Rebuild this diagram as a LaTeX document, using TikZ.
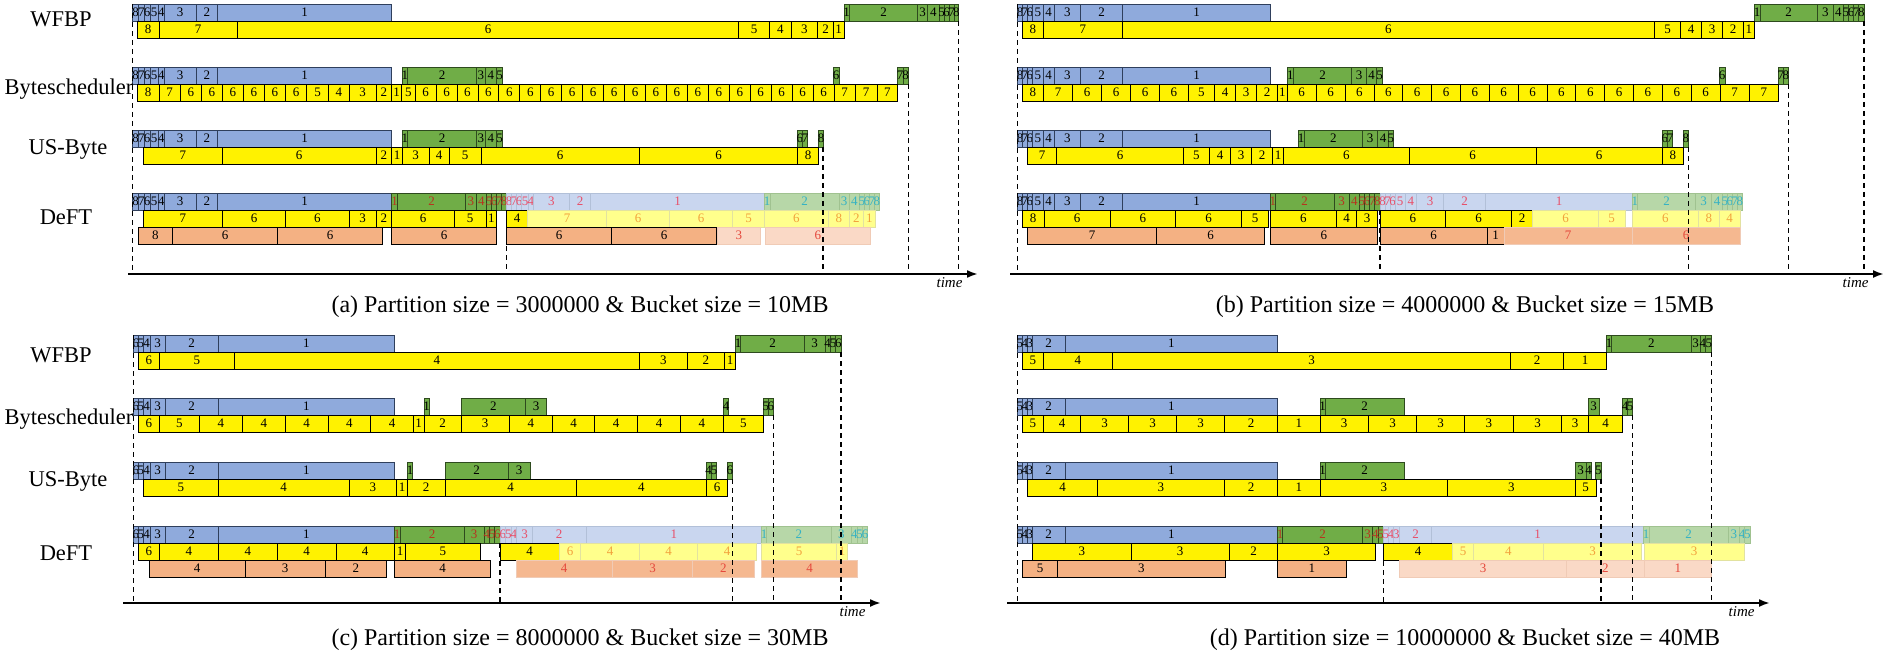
\documentclass[tikz,border=0pt]{standalone}
\usepackage{fontspec}
\setmainfont{Liberation Serif}
\usetikzlibrary{arrows.meta,positioning}

\definecolor{bluC}{HTML}{8FAADC}
\definecolor{bluB}{HTML}{2F3F5C}
\definecolor{verdeC}{HTML}{70AD47}
\definecolor{verdeB}{HTML}{2E4A1E}
\definecolor{arancioC}{HTML}{F4B183}
\definecolor{rossoS}{HTML}{B8341F}
\definecolor{bluTC}{HTML}{C9D6EF}
\definecolor{bluTB}{HTML}{B2C0D8}
\definecolor{bluTT}{HTML}{E8506A}
\definecolor{verdeTC}{HTML}{B7D7A8}
\definecolor{verdeTB}{HTML}{A0C290}
\definecolor{verdeTT}{HTML}{35B2C4}
\definecolor{gialloTC}{HTML}{FFFF8C}
\definecolor{gialloTB}{HTML}{E2E2A0}
\definecolor{gialloTT}{HTML}{F2A23C}
\definecolor{aranTC}{HTML}{FAD9C6}
\definecolor{aranTB}{HTML}{F0CBB6}
\definecolor{aranMC}{HTML}{F5B890}
\definecolor{aranTT}{HTML}{E5483C}

% una fila di blocchi: id, stile, y, x iniziale, lista fine/etichetta
\newcommand{\fila}[5]{%
  \foreach \b/\t [count=\i, remember=\b as \a (initially #4)] in {#5}
    \draw[#2] (\a,#3) rectangle (\b,#3+17) node[midway] (#1-\i) {\t};
}

\begin{document}
\begin{tikzpicture}
  [x=1pt, y=-1pt,
  cella/.style={line width=0.7pt, font=\fontsize{13}{13}\selectfont},
  blu/.style={cella, fill=bluC, draw=bluB},
  verde/.style={cella, fill=verdeC, draw=verdeB},
  verdeR/.style={verde, text=rossoS},
  giallo/.style={cella, fill=yellow, draw=black},
  arancio/.style={cella, fill=arancioC, draw=black},
  bluT/.style={cella, fill=bluTC, draw=bluTB, text=bluTT},
  verdeT/.style={cella, fill=verdeTC, draw=verdeTB, text=verdeTT},
  gialloT/.style={cella, fill=gialloTC, draw=gialloTB, text=gialloTT},
  aranT/.style={cella, fill=aranTC, draw=aranTB, text=aranTT},
  aranM/.style={cella, fill=aranMC, draw=aranTB, text=aranTT},
  tratto/.style={line width=1.4pt, dash pattern=on 5pt off 4pt},
  asse/.style={line width=2pt, -{Latex[length=11pt,width=8pt]}},
  tempo/.style={font=\fontsize{15}{15}\selectfont\itshape},
  etichetta/.style={font=\fontsize{22.5}{24}\selectfont},
  didascalia/.style={font=\fontsize{24}{26}\selectfont}
  ]
  \useasboundingbox (0,0) rectangle (1890,663);

  % (a)
  \fila{aWb}{blu}{4}{132.7}{138.5/8,144.3/7,150/6,158.3/5,164.3/4,196/3,217.7/2,391.7/1}
  \fila{aWv}{verde}{4}{844}{849.3/1,917.7/2,927.7/3,939/4,944/5,949/6,954/7,958.7/8}
  \fila{aWg}{giallo}{21}{137.3}{159/8,237.3/7,738.7/6,769.7/5,791/4,817.7/3,833.3/2,844/1}

  \fila{aBb}{blu}{67}{132.7}{138.5/8,144.3/7,150/6,158.3/5,164.3/4,196/3,217.7/2,391.7/1}
  \fila{aBv}{verde}{67}{402.3}{407.3/1,476.7/2,485/3,496.7/4,502.3/5}
  \fila{aBv6}{verde}{67}{833.3}{839/6}
  \fila{aBv7}{verde}{67}{897.3}{903/7,908.3/8}
  \fila{aBg}{giallo}{84}{137.3}{159/8,180.3/7,201.3/6,222.3/6,243.3/6,264.3/6,285.3/6,306.7/6,328.3/5,349.3/4,376/3,391.7/2,401.7/1,415/5,436/6,457/6,477.9/6,498.8/6,519.8/6,540.7/6,561.7/6,582.6/6,603.6/6,624.5/6,645.5/6,666.4/6,687.4/6,708.3/6,729.3/6,750.2/6,771.2/6,792.1/6,813.1/6,834/6,855.3/7,877/7,897.7/7}

  \fila{aUb}{blu}{130}{132.7}{138.5/8,144.3/7,150/6,158.3/5,164.3/4,196/3,217.7/2,391.7/1}
  \fila{aUv}{verde}{130}{402.3}{407.3/1,476.7/2,485/3,496.7/4,502.3/5}
  \fila{aUv6}{verde}{130}{797.3}{802.5/6,807.7/7}
  \fila{aUv8}{verde}{130}{818.3}{823.7/8}
  \fila{aUg}{giallo}{147}{143.3}{222.3/7,376/6,391.7/2,402.3/1,429/3,449.3/4,481/5,639.3/6,797.7/6,818.3/8}

  \fila{aDb}{blu}{193}{132.7}{138.5/8,144.3/7,150/6,158.3/5,164.3/4,196/3,217.7/2,391.7/1}
  \fila{aDv}{verdeR}{193}{391.7}{397.3/1,465.7/2,476/3,486.7/4,491.7/5,496.7/6,501.7/7,506.7/8}
  \fila{aDbt}{bluT}{193}{506.7}{511.7/8,516.7/7,521.7/6,528.3/5,533.3/4,569.3/3,590.7/2,764.3/1}
  \fila{aDvt}{verdeT}{193}{764.3}{770/1,839/2,849.3/3,859.3/4,864.3/5,869.3/6,874.3/7,879.3/8}
  \fila{aDg}{giallo}{210}{143.3}{222.3/7,285.7/6,349/6,376/3,391.7/2,454.3/6,486/5,496.7/1}
  \fila{aDg4}{giallo}{210}{506.7}{527.3/4}
  \fila{aDgt}{gialloT}{210}{527.3}{606.7/7,669.3/6,732.7/6,764.3/5,828.3/6,849.3/8,863.3/2,875.3/1}
  \fila{aDa}{arancio}{227}{138.3}{172.3/8,277.7/6,382.3/6}
  \fila{aDa5}{arancio}{227}{391.7}{496.7/6}
  \fila{aDa7}{arancio}{227}{506.7}{611.7/6,716.7/6}
  \fila{aDat}{aranT}{227}{717.7}{760/3}
  \fila{aDat6}{aranT}{227}{765.7}{870/6}

  % (b)
  \fila{bWb}{blu}{4}{1017.7}{1022.3/8,1027.3/7,1032.3/6,1043.3/5,1054/4,1080.7/3,1122.7/2,1270.7/1}
  \fila{bWv}{verde}{4}{1754.3}{1760/1,1817.3/2,1833.3/3,1843.3/4,1848.5/5,1853.7/6,1858.8/7,1864/8}
  \fila{bWg}{giallo}{21}{1022.3}{1043.3/8,1122.3/7,1654.3/6,1680.7/5,1701.7/4,1722.7/3,1743.3/2,1754.3/1}

  \fila{bBb}{blu}{67}{1017.7}{1022.3/8,1027.3/7,1032.3/6,1043.3/5,1054/4,1080.7/3,1122.7/2,1270.7/1}
  \fila{bBv}{verde}{67}{1287.3}{1293.3/1,1351.7/2,1366.7/3,1376.7/4,1382.7/5}
  \fila{bBv6}{verde}{67}{1719.3}{1725/6}
  \fila{bBv7}{verde}{67}{1778.3}{1783.3/7,1788.3/8}
  \fila{bBg}{giallo}{84}{1022.3}{1043.3/8,1072.7/7,1101.7/6,1130.7/6,1159.3/6,1188.3/6,1214.3/5,1235.7/4,1256.7/3,1277.3/2,1287.3/1,1316.1/6,1345/6,1373.9/6,1402.7/6,1431.6/6,1460.4/6,1489.3/6,1518.1/6,1547/6,1575.8/6,1604.7/6,1633.5/6,1662.4/6,1691.2/6,1720.1/6,1749.3/7,1778.3/7}

  \fila{bUb}{blu}{130}{1017.7}{1022.3/8,1027.3/7,1032.3/6,1043.3/5,1054/4,1080.7/3,1122.7/2,1270.7/1}
  \fila{bUv}{verde}{130}{1298.3}{1304/1,1362.7/2,1377.7/3,1388.3/4,1393.3/5}
  \fila{bUv6}{verde}{130}{1662.3}{1667.5/6,1672.7/7}
  \fila{bUv8}{verde}{130}{1683.3}{1688.3/8}
  \fila{bUg}{giallo}{147}{1027.7}{1056.7/7,1183.3/6,1209.3/5,1230.7/4,1251.7/3,1272.7/2,1283.3/1,1409.3/6,1536/6,1662.3/6,1683.3/8}

  \fila{bDb}{blu}{193}{1017.7}{1022.3/8,1027.3/7,1032.3/6,1043.3/5,1054/4,1080.7/3,1122.7/2,1270.7/1}
  \fila{bDv}{verdeR}{193}{1270.7}{1275/1,1334/2,1349.3/3,1359.3/4,1364.5/5,1369.7/6,1374.8/7,1380/8}
  \fila{bDbt}{bluT}{193}{1380}{1385/8,1390/7,1395/6,1405/5,1416.7/4,1443.3/3,1485.7/2,1632.3/1}
  \fila{bDvt}{verdeT}{193}{1632.3}{1637.3/1,1695.7/2,1711.7/3,1722.3/4,1727.3/5,1732.3/6,1737.3/7,1742.3/8}
  \fila{bDg}{giallo}{210}{1022.3}{1044/8,1110/6,1175.7/6,1241.7/6,1268.3/5}
  \fila{bDg2}{giallo}{210}{1270}{1336.7/6,1356.7/4,1377.7/3}
  \fila{bDg3}{giallo}{210}{1380}{1445.7/6,1511.7/6,1532.7/2}
  \fila{bDgt}{gialloT}{210}{1532.7}{1598.3/6,1625/5}
  \fila{bDgt2}{gialloT}{210}{1632.3}{1698.3/6,1719.3/8,1740/4}
  \fila{bDa}{arancio}{227}{1027.7}{1156.7/7,1264.3/6}
  \fila{bDa2}{arancio}{227}{1270}{1377.7/6}
  \fila{bDa3}{arancio}{227}{1380}{1487.3/6,1504/1}
  \fila{bDam}{aranM}{227}{1504}{1632.3/7,1740/6}

  % (c)
  \fila{cWb}{blu}{335}{133.3}{138.3/6,143.3/5,150/4,165/3,218.3/2,394.3/1}
  \fila{cWv}{verde}{335}{735.7}{740.7/1,804.3/2,825/3,830.3/4,835.7/5,841/6}
  \fila{cWg}{giallo}{352}{138.3}{159.3/6,234.3/5,639.3/4,687.3/3,724.3/2,735.7/1}

  \fila{cBb}{blu}{398}{133.3}{138.3/6,143.3/5,150/4,165/3,218.3/2,394.3/1}
  \fila{cBv}{verde}{398}{424}{429.3/1}
  \fila{cBv2}{verde}{398}{461}{525.7/2,546.7/3}
  \fila{cBv4}{verde}{398}{723.3}{728.7/4}
  \fila{cBv5}{verde}{398}{763.3}{768.3/5,773.3/6}
  \fila{cBg}{giallo}{415}{138.3}{159.3/6,199.3/5,242.3/4,285.3/4,328/4,370.7/4,413.3/4,424/1,461/2,509.3/3,552.3/4,594.7/4,637.7/4,680.3/4,723.3/4,763.3/5}

  \fila{cUb}{blu}{462}{133.3}{138.3/6,143.3/5,150/4,165/3,218.3/2,394.3/1}
  \fila{cUv}{verde}{462}{407.3}{412.7/1}
  \fila{cUv2}{verde}{462}{445}{508.3/2,530/3}
  \fila{cUv4}{verde}{462}{706}{711.3/4,716.7/5}
  \fila{cUv6}{verde}{462}{727.3}{732.3/6}
  \fila{cUg}{giallo}{479}{143.3}{218.3/5,349/4,396.7/3,407.3/1,445/2,576/4,706.7/4,727.7/6}

  \fila{cDb}{blu}{526}{133.3}{138.3/6,143.3/5,150/4,165/3,218.3/2,394.3/1}
  \fila{cDv}{verdeR}{526}{394.3}{400/1,464/2,484.3/3,489.5/4,494.8/5,500/6}
  \fila{cDbt}{bluT}{526}{500}{505.5/6,511/5,516.7/4,532.3/3,586/2,761.7/1}
  \fila{cDvt}{verdeT}{526}{761.7}{766.7/1,831/2,851.7/3,857/4,862.3/5,867.7/6}
  \fila{cDg}{giallo}{543}{138.3}{159.3/6,218.3/4,277.3/4,336/4,394.3/4,405.7/1,480/5}
  \fila{cDg2}{giallo}{543}{500}{559.3/4}
  \fila{cDgt}{gialloT}{543}{559.3}{580.7/6,639.3/4,697.7/4,756.7/4}
  \fila{cDgt2}{gialloT}{543}{761.7}{836.7/5,847.7/1}
  \fila{cDa}{arancio}{560}{149.3}{245/4,325/3,386.7/2}
  \fila{cDa2}{arancio}{560}{394.3}{490.7/4}
  \fila{cDam}{aranM}{560}{516}{612.3/4,692.7/3,754/2}
  \fila{cDam2}{aranM}{560}{761.7}{857.7/4}

  % (d)
  \fila{dWb}{blu}{335}{1017.3}{1022.3/5,1027.3/4,1032.3/3,1065/2,1277.7/1}
  \fila{dWv}{verde}{335}{1606.7}{1611.7/1,1691/2,1700/3,1705.8/4,1711.7/5}
  \fila{dWg}{giallo}{352}{1022.3}{1043.3/5,1112.3/4,1510.7/3,1563.3/2,1606.7/1}

  \fila{dBb}{blu}{398}{1017.3}{1022.3/5,1027.3/4,1032.3/3,1065/2,1277.7/1}
  \fila{dBv}{verde}{398}{1320}{1325/1,1404.3/2}
  \fila{dBv3}{verde}{398}{1588.3}{1599/3}
  \fila{dBv4}{verde}{398}{1622.7}{1627.7/4,1632.7/5}
  \fila{dBg}{giallo}{415}{1022.3}{1043.3/5,1080.7/4,1128.3/3,1176.7/3,1224.3/3,1277.7/2,1320/1,1368.3/3,1416.7/3,1464.3/3,1513.3/3,1561.7/3,1588.3/3,1622.7/4}

  \fila{dUb}{blu}{462}{1017.3}{1022.3/5,1027.3/4,1032.3/3,1065/2,1277.7/1}
  \fila{dUv}{verde}{462}{1320}{1325/1,1404.3/2}
  \fila{dUv3}{verde}{462}{1575}{1586/3,1591/4}
  \fila{dUv5}{verde}{462}{1595.7}{1601/5}
  \fila{dUg}{giallo}{479}{1027.7}{1097.3/4,1224.3/3,1277.7/2,1320/1,1447.7/3,1575/3,1596/5}

  \fila{dDb}{blu}{526}{1017.3}{1022.3/5,1027.3/4,1032.3/3,1065/2,1277.7/1}
  \fila{dDv}{verdeR}{526}{1277.7}{1282.7/1,1362.7/2,1372.7/3,1378/4,1383.3/5}
  \fila{dDbt}{bluT}{526}{1383.3}{1388.3/5,1393.3/4,1399.3/3,1431.7/2,1643.3/1}
  \fila{dDvt}{verdeT}{526}{1643.3}{1649/1,1728.3/2,1739.3/3,1744.7/4,1750/5}
  \fila{dDg}{giallo}{543}{1032.7}{1131/3,1229.3/3,1277.7/2,1375.7/3}
  \fila{dDg2}{giallo}{543}{1383.3}{1452.7/4}
  \fila{dDgt}{gialloT}{543}{1452.7}{1473.3/5,1543.3/4,1641.7/3}
  \fila{dDgt2}{gialloT}{543}{1644}{1744.3/3}
  \fila{dDa}{arancio}{560}{1022.7}{1057.7/5,1225/3}
  \fila{dDa2}{arancio}{560}{1277.7}{1346/1}
  \fila{dDat}{aranT}{560}{1399.3}{1566.7/3,1644/2,1711.7/1}

  % linee tratteggiate
  \foreach \x/\y in {132.7/4,506.7/210,823/147,908.3/84,958.7/21,
                     1017.7/4,1380/210,1688.3/147,1788.3/84,1864/21}
    \draw[tratto] (\x,\y) -- (\x,274);
  \foreach \x/\y in {133.3/335,500/543,732.3/479,773.3/415,841/352,
                     1017.3/335,1383.3/543,1601/479,1632.7/415,1711.7/352}
    \draw[tratto] (\x,\y) -- (\x,603);

  % assi
  \coordinate (ia) at (128,274);  \coordinate (fa) at (978,274);
  \coordinate (ib) at (1010,274); \coordinate (fb) at (1884,274);
  \coordinate (ic) at (123,603);  \coordinate (fc) at (881,603);
  \coordinate (id) at (1007,603); \coordinate (fd) at (1770,603);
  \draw[asse] (ia) -- (fa);
  \draw[asse] (ib) -- (fb);
  \draw[asse] (ic) -- (fc);
  \draw[asse] (id) -- (fd);
  \node[tempo, below left=0pt and 12pt of fa] (tempoa) {time};
  \node[tempo, below left=0pt and 12pt of fb] (tempob) {time};
  \node[tempo, below left=0pt and 12pt of fc] (tempoc) {time};
  \node[tempo, below left=0pt and 12pt of fd] (tempod) {time};

  % nomi delle righe
  \node[etichetta] (wfbpa) at (61,19) {WFBP};
  \node[etichetta] (bytea) at (69,89) {Bytescheduler};
  \node[etichetta] (usa) at (68,149) {US-Byte};
  \node[etichetta] (defta) at (66,217) {DeFT};
  \node[etichetta] (wfbpc) at (61,355) {WFBP};
  \node[etichetta] (bytec) at (69,419) {Bytescheduler};
  \node[etichetta] (usc) at (68,481) {US-Byte};
  \node[etichetta] (deftc) at (66,553) {DeFT};

  % didascalie
  \node[didascalia] (capa) at (580,307) {(a) Partition size = 3000000 \& Bucket size = 10MB};
  \node[didascalia] (capb) at (1465,307) {(b) Partition size = 4000000 \& Bucket size = 15MB};
  \node[didascalia] (capc) at (580,640) {(c) Partition size = 8000000 \& Bucket size = 30MB};
  \node[didascalia] (capd) at (1465,640) {(d) Partition size = 10000000 \& Bucket size = 40MB};
\end{tikzpicture}
\end{document}
